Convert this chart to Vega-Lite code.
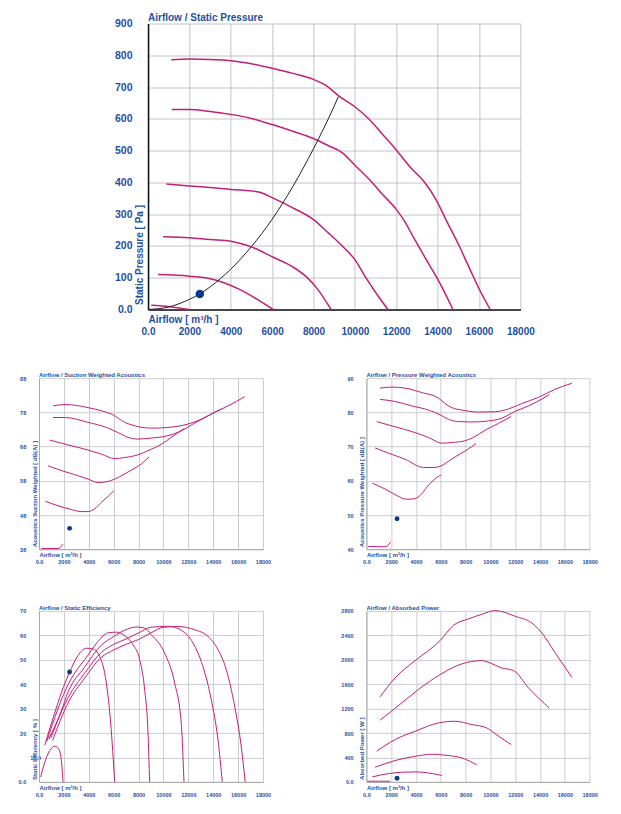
{
  "$schema": "https://vega.github.io/schema/vega-lite/v6.json",
  "background": "white",
  "padding": {"left": 18, "top": 12.5, "right": 5, "bottom": 5},
  "datasets": {
    "press": [
      {"c":"1","x":1130,"y":786},{"c":"1","x":2000,"y":788},{"c":"1","x":3000,"y":787},{"c":"1","x":4000,"y":783},{"c":"1","x":5000,"y":773},{"c":"1","x":6000,"y":759},{"c":"1","x":7000,"y":743},{"c":"1","x":8000,"y":724},{"c":"1","x":8650,"y":703},{"c":"1","x":9200,"y":673},{"c":"1","x":10000,"y":638},{"c":"1","x":10700,"y":598},{"c":"1","x":11340,"y":551},{"c":"1","x":12000,"y":502},{"c":"1","x":12630,"y":451},{"c":"1","x":13350,"y":402},{"c":"1","x":13920,"y":346},{"c":"1","x":14400,"y":283},{"c":"1","x":15050,"y":199},{"c":"1","x":15530,"y":131},{"c":"1","x":16020,"y":63},{"c":"1","x":16540,"y":0},
      {"c":"2","x":1150,"y":629},{"c":"2","x":2000,"y":629},{"c":"2","x":3000,"y":623},{"c":"2","x":4000,"y":614},{"c":"2","x":5000,"y":601},{"c":"2","x":6000,"y":582},{"c":"2","x":7000,"y":561},{"c":"2","x":8000,"y":538},{"c":"2","x":8700,"y":516},{"c":"2","x":9400,"y":493},{"c":"2","x":10000,"y":454},{"c":"2","x":10700,"y":409},{"c":"2","x":11340,"y":362},{"c":"2","x":12000,"y":315},{"c":"2","x":12400,"y":278},{"c":"2","x":12800,"y":231},{"c":"2","x":13450,"y":157},{"c":"2","x":14100,"y":84},{"c":"2","x":14740,"y":0},
      {"c":"3","x":890,"y":395},{"c":"3","x":2000,"y":389},{"c":"3","x":3000,"y":384},{"c":"3","x":4000,"y":378},{"c":"3","x":5400,"y":369},{"c":"3","x":6000,"y":352},{"c":"3","x":7000,"y":320},{"c":"3","x":8000,"y":283},{"c":"3","x":8700,"y":242},{"c":"3","x":9400,"y":199},{"c":"3","x":10000,"y":157},{"c":"3","x":10530,"y":100},{"c":"3","x":11020,"y":52},{"c":"3","x":11600,"y":0},
      {"c":"4","x":730,"y":229},{"c":"4","x":2000,"y":226},{"c":"4","x":3000,"y":220},{"c":"4","x":4000,"y":215},{"c":"4","x":5000,"y":197},{"c":"4","x":6000,"y":166},{"c":"4","x":7000,"y":134},{"c":"4","x":7670,"y":102},{"c":"4","x":8150,"y":68},{"c":"4","x":8850,"y":0},
      {"c":"5","x":485,"y":110},{"c":"5","x":2000,"y":105},{"c":"5","x":3000,"y":97},{"c":"5","x":3600,"y":86},{"c":"5","x":4400,"y":64},{"c":"5","x":5080,"y":40},{"c":"5","x":6050,"y":0},
      {"c":"6","x":160,"y":13},{"c":"6","x":1050,"y":9},{"c":"6","x":2000,"y":0}
    ],
    "sys": [
      {"x":0,"y":0},{"x":1000,"y":8},{"x":2000,"y":32},{"x":2500,"y":49},{"x":3000,"y":71},{"x":4000,"y":127},{"x":5000,"y":198},{"x":6000,"y":284},{"x":7000,"y":387},{"x":8000,"y":506},{"x":8500,"y":571},{"x":9000,"y":640},{"x":9200,"y":670}
    ],
    "suc": [
      {"c":"1","x":1120,"y":79.9},{"c":"1","x":2060,"y":80.3},{"c":"1","x":2870,"y":80.1},{"c":"1","x":3940,"y":79.4},{"c":"1","x":5000,"y":78.5},{"c":"1","x":5940,"y":77.3},{"c":"1","x":6880,"y":75.1},{"c":"1","x":7680,"y":74.1},{"c":"1","x":9020,"y":73.4},{"c":"1","x":10360,"y":73.6},{"c":"1","x":11970,"y":74.6},{"c":"1","x":13040,"y":76.0},{"c":"1","x":14110,"y":78.0},{"c":"1","x":15180,"y":79.9},{"c":"1","x":16550,"y":82.6},
      {"c":"2","x":1120,"y":76.5},{"c":"2","x":2060,"y":76.5},{"c":"2","x":3940,"y":75.1},{"c":"2","x":5410,"y":73.6},{"c":"2","x":6350,"y":72.1},{"c":"2","x":7150,"y":70.7},{"c":"2","x":7950,"y":70.2},{"c":"2","x":9020,"y":70.5},{"c":"2","x":10360,"y":71.2},{"c":"2","x":11430,"y":72.6},{"c":"2","x":12370,"y":74.6},{"c":"2","x":13570,"y":77.0},{"c":"2","x":14250,"y":78.3},{"c":"2","x":14700,"y":79.0},
      {"c":"3","x":860,"y":69.9},{"c":"3","x":2330,"y":68.5},{"c":"3","x":3940,"y":67.0},{"c":"3","x":5010,"y":65.8},{"c":"3","x":6080,"y":64.5},{"c":"3","x":6880,"y":64.8},{"c":"3","x":7950,"y":65.6},{"c":"3","x":8750,"y":66.8},{"c":"3","x":9830,"y":68.7},{"c":"3","x":10630,"y":70.7},{"c":"3","x":11620,"y":73.2},
      {"c":"4","x":720,"y":62.4},{"c":"4","x":1790,"y":61.0},{"c":"4","x":2870,"y":59.8},{"c":"4","x":3940,"y":58.5},{"c":"4","x":4740,"y":57.5},{"c":"4","x":5540,"y":57.8},{"c":"4","x":6080,"y":58.5},{"c":"4","x":6880,"y":60.0},{"c":"4","x":7550,"y":61.4},{"c":"4","x":8220,"y":62.9},{"c":"4","x":8840,"y":65.0},
      {"c":"5","x":510,"y":52.0},{"c":"5","x":1530,"y":50.7},{"c":"5","x":2600,"y":49.6},{"c":"5","x":3400,"y":49.0},{"c":"5","x":3940,"y":49.0},{"c":"5","x":4470,"y":49.8},{"c":"5","x":5010,"y":51.7},{"c":"5","x":5540,"y":53.4},{"c":"5","x":6020,"y":55.1},
      {"c":"6","x":190,"y":38.2},{"c":"6","x":1530,"y":38.2},{"c":"6","x":1930,"y":39.5}
    ],
    "pwa": [
      {"c":"1","x":1100,"y":87.1},{"c":"1","x":2040,"y":87.4},{"c":"1","x":3120,"y":87.1},{"c":"1","x":4460,"y":85.8},{"c":"1","x":5810,"y":84.2},{"c":"1","x":6340,"y":82.6},{"c":"1","x":6880,"y":81.4},{"c":"1","x":7690,"y":80.7},{"c":"1","x":9030,"y":80.1},{"c":"1","x":10380,"y":80.2},{"c":"1","x":11450,"y":81.0},{"c":"1","x":12530,"y":82.6},{"c":"1","x":13870,"y":84.4},{"c":"1","x":15220,"y":86.8},{"c":"1","x":16560,"y":88.5},
      {"c":"2","x":1100,"y":83.8},{"c":"2","x":2310,"y":83.2},{"c":"2","x":3660,"y":81.9},{"c":"2","x":5000,"y":80.7},{"c":"2","x":5940,"y":79.3},{"c":"2","x":6610,"y":78.0},{"c":"2","x":7420,"y":77.3},{"c":"2","x":8500,"y":77.2},{"c":"2","x":9840,"y":77.5},{"c":"2","x":10910,"y":78.3},{"c":"2","x":11990,"y":80.3},{"c":"2","x":13070,"y":81.9},{"c":"2","x":14140,"y":83.9},{"c":"2","x":14750,"y":85.2},
      {"c":"3","x":830,"y":77.3},{"c":"3","x":2310,"y":75.8},{"c":"3","x":3660,"y":74.4},{"c":"3","x":5000,"y":72.7},{"c":"3","x":6080,"y":71.0},{"c":"3","x":6880,"y":71.2},{"c":"3","x":7960,"y":71.7},{"c":"3","x":8630,"y":72.7},{"c":"3","x":9570,"y":74.8},{"c":"3","x":10650,"y":76.8},{"c":"3","x":11670,"y":78.8},
      {"c":"4","x":700,"y":69.6},{"c":"4","x":1770,"y":68.1},{"c":"4","x":3120,"y":66.3},{"c":"4","x":4600,"y":63.9},{"c":"4","x":5400,"y":63.9},{"c":"4","x":6210,"y":64.7},{"c":"4","x":6610,"y":65.7},{"c":"4","x":7290,"y":67.3},{"c":"4","x":8090,"y":69.0},{"c":"4","x":8840,"y":70.9},
      {"c":"5","x":480,"y":59.3},{"c":"5","x":1500,"y":57.6},{"c":"5","x":2450,"y":55.7},{"c":"5","x":3250,"y":54.6},{"c":"5","x":3790,"y":54.7},{"c":"5","x":4330,"y":55.7},{"c":"5","x":4870,"y":58.1},{"c":"5","x":5400,"y":60.2},{"c":"5","x":6020,"y":61.7},
      {"c":"6","x":160,"y":40.8},{"c":"6","x":1500,"y":40.7},{"c":"6","x":1940,"y":42.0}
    ],
    "eff": [
      {"c":"1","x":1100,"y":17.0},{"c":"1","x":2330,"y":32.3},{"c":"1","x":3670,"y":42.5},{"c":"1","x":5010,"y":51.0},{"c":"1","x":6000,"y":54.0},{"c":"1","x":7000,"y":56.3},{"c":"1","x":8000,"y":58.3},{"c":"1","x":9000,"y":61.0},{"c":"1","x":10000,"y":63.3},{"c":"1","x":11160,"y":63.6},{"c":"1","x":12500,"y":62.3},{"c":"1","x":13570,"y":59.6},{"c":"1","x":14380,"y":54.2},{"c":"1","x":15050,"y":46.0},{"c":"1","x":15720,"y":31.0},{"c":"1","x":16250,"y":14.6},{"c":"1","x":16570,"y":0},
      {"c":"2","x":950,"y":18.0},{"c":"2","x":2330,"y":34.4},{"c":"2","x":3670,"y":44.5},{"c":"2","x":5010,"y":53.0},{"c":"2","x":6000,"y":56.3},{"c":"2","x":7000,"y":58.5},{"c":"2","x":8000,"y":61.0},{"c":"2","x":9000,"y":63.3},{"c":"2","x":10360,"y":63.7},{"c":"2","x":11430,"y":62.1},{"c":"2","x":12370,"y":56.9},{"c":"2","x":13170,"y":47.3},{"c":"2","x":13840,"y":33.7},{"c":"2","x":14380,"y":17.3},{"c":"2","x":14730,"y":0},
      {"c":"3","x":780,"y":17.5},{"c":"3","x":1790,"y":29.0},{"c":"3","x":2330,"y":36.7},{"c":"3","x":3670,"y":47.0},{"c":"3","x":5010,"y":56.0},{"c":"3","x":6000,"y":59.5},{"c":"3","x":6880,"y":62.1},{"c":"3","x":7820,"y":63.4},{"c":"3","x":8490,"y":63.0},{"c":"3","x":9020,"y":60.3},{"c":"3","x":10090,"y":52.8},{"c":"3","x":10900,"y":40.5},{"c":"3","x":11430,"y":24.1},{"c":"3","x":11650,"y":0},
      {"c":"4","x":620,"y":16.5},{"c":"4","x":1530,"y":30.0},{"c":"4","x":2330,"y":39.8},{"c":"4","x":3130,"y":46.5},{"c":"4","x":3670,"y":50.0},{"c":"4","x":4740,"y":57.5},{"c":"4","x":5540,"y":61.0},{"c":"4","x":6210,"y":61.3},{"c":"4","x":6880,"y":59.9},{"c":"4","x":7550,"y":56.2},{"c":"4","x":8090,"y":50.1},{"c":"4","x":8490,"y":37.8},{"c":"4","x":8760,"y":20.1},{"c":"4","x":8890,"y":0},
      {"c":"5","x":460,"y":15.0},{"c":"5","x":1260,"y":28.2},{"c":"5","x":1790,"y":36.4},{"c":"5","x":2460,"y":44.9},{"c":"5","x":3130,"y":51.7},{"c":"5","x":3800,"y":54.7},{"c":"5","x":4340,"y":54.4},{"c":"5","x":4870,"y":51.4},{"c":"5","x":5410,"y":40.5},{"c":"5","x":5760,"y":24.1},{"c":"5","x":6080,"y":0},
      {"c":"6","x":130,"y":2.0},{"c":"6","x":450,"y":7.8},{"c":"6","x":860,"y":12.8},{"c":"6","x":1260,"y":14.6},{"c":"6","x":1580,"y":13.5},{"c":"6","x":1790,"y":9.1},{"c":"6","x":1930,"y":0}
    ],
    "pow": [
      {"c":"1","x":1100,"y":1392},{"c":"1","x":2310,"y":1703},{"c":"1","x":3930,"y":1986},{"c":"1","x":5940,"y":2314},{"c":"1","x":7020,"y":2565},{"c":"1","x":8230,"y":2669},{"c":"1","x":9300,"y":2745},{"c":"1","x":10380,"y":2805},{"c":"1","x":10910,"y":2789},{"c":"1","x":11990,"y":2712},{"c":"1","x":13330,"y":2603},{"c":"1","x":14140,"y":2439},{"c":"1","x":15220,"y":2112},{"c":"1","x":16560,"y":1714},
      {"c":"2","x":1100,"y":1010},{"c":"2","x":2850,"y":1293},{"c":"2","x":4190,"y":1512},{"c":"2","x":5940,"y":1757},{"c":"2","x":7690,"y":1932},{"c":"2","x":9300,"y":1986},{"c":"2","x":9970,"y":1948},{"c":"2","x":10910,"y":1866},{"c":"2","x":11860,"y":1823},{"c":"2","x":13070,"y":1539},{"c":"2","x":14760,"y":1206},
      {"c":"3","x":830,"y":502},{"c":"3","x":2310,"y":693},{"c":"3","x":3930,"y":829},{"c":"3","x":5810,"y":966},{"c":"3","x":7150,"y":993},{"c":"3","x":8500,"y":939},{"c":"3","x":9700,"y":884},{"c":"3","x":10650,"y":748},{"c":"3","x":11670,"y":611},
      {"c":"4","x":700,"y":240},{"c":"4","x":2310,"y":349},{"c":"4","x":3930,"y":420},{"c":"4","x":5270,"y":453},{"c":"4","x":6340,"y":437},{"c":"4","x":7690,"y":393},{"c":"4","x":8900,"y":278},
      {"c":"5","x":480,"y":82},{"c":"5","x":1770,"y":136},{"c":"5","x":2850,"y":158},{"c":"5","x":3930,"y":164},{"c":"5","x":5000,"y":147},{"c":"5","x":6080,"y":104},
      {"c":"6","x":100,"y":11},{"c":"6","x":1910,"y":11}
    ]
  },
  "columns": 2,
  "align": "each",
  "bounds": "flush",
  "spacing": {"row": 61.7, "column": 103.4},
  "concat": [
    {
      "width": 5.6, "height": 293,
      "data": {"values": [{"x": 0}]},
      "mark": {"type": "text", "text": ""}
    },
    {
      "width": 154, "height": 286,
      "title": {"text": "Airflow / Static Pressure", "anchor": "start", "frame": "group", "fontSize": 10, "fontWeight": "bold", "color": "#1f4f9f", "font": "Liberation Sans", "baseline": "alphabetic", "offset": -12.5, "dx": -218.4},
      "encoding": {
        "x": {"field": "x", "type": "quantitative", "scale": {"domain": [0, 18000], "range": [-218.4, 154], "nice": false, "zero": false},
          "axis": {"values": [0,2000,4000,6000,8000,10000,12000,14000,16000,18000], "labelExpr": "datum.value == 0 ? '0.0' : format(datum.value, 'd')", "title": "Airflow [ m³/h ]", "titleX": -218.4, "titleY": 10, "titleAlign": "left", "titleBaseline": "middle", "titleFontSize": 10, "labelFontSize": 10, "labelPadding": 21.5, "domainColor": "#111", "domainWidth": 1.5, "gridColor": "#c4c4c4"}},
        "y": {"field": "y", "type": "quantitative", "scale": {"domain": [0, 900], "nice": false, "zero": false},
          "axis": {"values": [0,100,200,300,400,500,600,700,800,900], "offset": 218.4, "labelExpr": "datum.value == 0 ? '0.0' : format(datum.value, 'd')", "title": "Static Pressure [ Pa ]", "titleX": -9, "titleY": 281, "titleAngle": 270, "titleAlign": "left", "titleBaseline": "middle", "titleFontSize": 10, "labelFontSize": 10.5, "labelPadding": 16, "domainColor": "#111", "domainWidth": 1.5, "gridColor": "#c4c4c4"}}
      },
      "layer": [
        {"data": {"name": "press"}, "mark": {"type": "line", "color": "#c41e7a", "strokeWidth": 1.5, "interpolate": "monotone"}, "encoding": {"detail": {"field": "c", "type": "nominal"}}},
        {"data": {"name": "sys"}, "mark": {"type": "line", "color": "#222222", "strokeWidth": 1, "interpolate": "monotone"}},
        {"data": {"values": [{"x": 2505, "y": 49}]}, "mark": {"type": "circle", "size": 72, "color": "#0a3a8c", "opacity": 1}}
      ]
    },
    {
      "width": 224, "height": 171,
      "title": {"text": "Airflow / Suction Weighted Acoustics", "anchor": "start", "frame": "group", "fontSize": 6, "fontWeight": "bold", "color": "#1f4f9f", "font": "Liberation Sans", "baseline": "alphabetic", "offset": -7},
      "encoding": {
        "x": {"field": "x", "type": "quantitative", "scale": {"domain": [0, 18000], "nice": false, "zero": false},
          "axis": {"values": [0,2000,4000,6000,8000,10000,12000,14000,16000,18000], "labelExpr": "datum.value == 0 ? '0.0' : format(datum.value, 'd')", "title": "Airflow [ m³/h ]", "titleX": 0, "titleY": 5.5, "titleAlign": "left", "titleBaseline": "middle", "titleFontSize": 6, "labelFontSize": 5.5, "labelPadding": 12}},
        "y": {"field": "y", "type": "quantitative", "scale": {"domain": [38, 88], "nice": false, "zero": false},
          "axis": {"values": [38,48,58,68,78,88], "title": "Acoustics Suction Weighted [ dB(A) ]", "titleX": -5, "titleY": 168.5, "titleAngle": 270, "titleAlign": "left", "titleBaseline": "middle", "titleFontSize": 6, "labelFontSize": 5.5, "labelPadding": 13.3}}
      },
      "layer": [
        {"data": {"name": "suc"}, "mark": {"type": "line", "color": "#c41e7a", "strokeWidth": 1, "interpolate": "monotone"}, "encoding": {"detail": {"field": "c", "type": "nominal"}}},
        {"data": {"values": [{"x": 2460, "y": 44.1}]}, "mark": {"type": "circle", "size": 24, "color": "#0a3a8c", "opacity": 1}}
      ]
    },
    {
      "width": 223.3, "height": 171,
      "title": {"text": "Airflow / Pressure Weighted Acoustics", "anchor": "start", "frame": "group", "fontSize": 6, "fontWeight": "bold", "color": "#1f4f9f", "font": "Liberation Sans", "baseline": "alphabetic", "offset": -7},
      "encoding": {
        "x": {"field": "x", "type": "quantitative", "scale": {"domain": [0, 18000], "nice": false, "zero": false},
          "axis": {"values": [0,2000,4000,6000,8000,10000,12000,14000,16000,18000], "labelExpr": "datum.value == 0 ? '0.0' : format(datum.value, 'd')", "title": "Airflow [ m³/h ]", "titleX": 0, "titleY": 5.5, "titleAlign": "left", "titleBaseline": "middle", "titleFontSize": 6, "labelFontSize": 5.5, "labelPadding": 12}},
        "y": {"field": "y", "type": "quantitative", "scale": {"domain": [40, 90], "nice": false, "zero": false},
          "axis": {"values": [40,50,60,70,80,90], "title": "Acoustics Pressure Weighted [ dB(A) ]", "titleX": -5, "titleY": 168.5, "titleAngle": 270, "titleAlign": "left", "titleBaseline": "middle", "titleFontSize": 6, "labelFontSize": 5.5, "labelPadding": 13.3}}
      },
      "layer": [
        {"data": {"name": "pwa"}, "mark": {"type": "line", "color": "#c41e7a", "strokeWidth": 1, "interpolate": "monotone"}, "encoding": {"detail": {"field": "c", "type": "nominal"}}},
        {"data": {"values": [{"x": 2470, "y": 48.9}]}, "mark": {"type": "circle", "size": 24, "color": "#0a3a8c", "opacity": 1}}
      ]
    },
    {
      "width": 224, "height": 171,
      "title": {"text": "Airflow / Static Efficiency", "anchor": "start", "frame": "group", "fontSize": 6, "fontWeight": "bold", "color": "#1f4f9f", "font": "Liberation Sans", "baseline": "alphabetic", "offset": -7},
      "encoding": {
        "x": {"field": "x", "type": "quantitative", "scale": {"domain": [0, 18000], "nice": false, "zero": false},
          "axis": {"values": [0,2000,4000,6000,8000,10000,12000,14000,16000,18000], "labelExpr": "datum.value == 0 ? '0.0' : format(datum.value, 'd')", "title": "Airflow [ m³/h ]", "titleX": 0, "titleY": 5.5, "titleAlign": "left", "titleBaseline": "middle", "titleFontSize": 6, "labelFontSize": 5.5, "labelPadding": 12.5}},
        "y": {"field": "y", "type": "quantitative", "scale": {"domain": [0, 70], "nice": false, "zero": false},
          "axis": {"values": [0,10,20,30,40,50,60,70], "labelExpr": "datum.value == 0 ? '0.0' : datum.value == 10 ? '10.0' : format(datum.value, 'd')", "title": "Static Efficiency [ % ]", "titleX": -5, "titleY": 168.5, "titleAngle": 270, "titleAlign": "left", "titleBaseline": "middle", "titleFontSize": 6, "labelFontSize": 5.5, "labelPadding": {"condition": {"test": "datum.value == 10", "value": -1.5}, "value": 13.3}}}
      },
      "layer": [
        {"data": {"name": "eff"}, "mark": {"type": "line", "color": "#c41e7a", "strokeWidth": 1, "interpolate": "monotone"}, "encoding": {"detail": {"field": "c", "type": "nominal"}}},
        {"data": {"values": [{"x": 2460, "y": 45.0}]}, "mark": {"type": "circle", "size": 24, "color": "#0a3a8c", "opacity": 1}}
      ]
    },
    {
      "width": 223.3, "height": 171,
      "title": {"text": "Airflow / Absorbed Power", "anchor": "start", "frame": "group", "fontSize": 6, "fontWeight": "bold", "color": "#1f4f9f", "font": "Liberation Sans", "baseline": "alphabetic", "offset": -7},
      "encoding": {
        "x": {"field": "x", "type": "quantitative", "scale": {"domain": [0, 18000], "nice": false, "zero": false},
          "axis": {"values": [0,2000,4000,6000,8000,10000,12000,14000,16000,18000], "labelExpr": "datum.value == 0 ? '0.0' : format(datum.value, 'd')", "title": "Airflow [ m³/h ]", "titleX": 0, "titleY": 5.5, "titleAlign": "left", "titleBaseline": "middle", "titleFontSize": 6, "labelFontSize": 5.5, "labelPadding": 12.5}},
        "y": {"field": "y", "type": "quantitative", "scale": {"domain": [0, 2800], "nice": false, "zero": false},
          "axis": {"values": [0,400,800,1200,1600,2000,2400,2800], "labelExpr": "datum.value == 0 ? '0.0' : format(datum.value, 'd')", "title": "Absorbed Power [ W ]", "titleX": -5, "titleY": 168.5, "titleAngle": 270, "titleAlign": "left", "titleBaseline": "middle", "titleFontSize": 6, "labelFontSize": 5.5, "labelPadding": 13.3}}
      },
      "layer": [
        {"data": {"name": "pow"}, "mark": {"type": "line", "color": "#c41e7a", "strokeWidth": 1, "interpolate": "monotone"}, "encoding": {"detail": {"field": "c", "type": "nominal"}}},
        {"data": {"values": [{"x": 2470, "y": 60}]}, "mark": {"type": "circle", "size": 24, "color": "#0a3a8c", "opacity": 1}}
      ]
    }
  ],
  "config": {
    "view": {"stroke": null},
    "font": "Liberation Sans",
    "axis": {"grid": true, "gridColor": "#cdcdcd", "gridWidth": 1, "ticks": false, "tickSize": 0, "labelColor": "#1f4f9f", "titleColor": "#1f4f9f", "labelFont": "Liberation Sans", "titleFont": "Liberation Sans", "labelFontWeight": "bold", "titleFontWeight": "bold", "labelOverlap": false, "labelFlush": false, "labelBound": false, "domainColor": "#a8a8a8", "domainWidth": 1},
    "axisX": {"labelBaseline": "middle"},
    "axisY": {"labelAlign": "right", "labelBaseline": "middle"}
  }
}
